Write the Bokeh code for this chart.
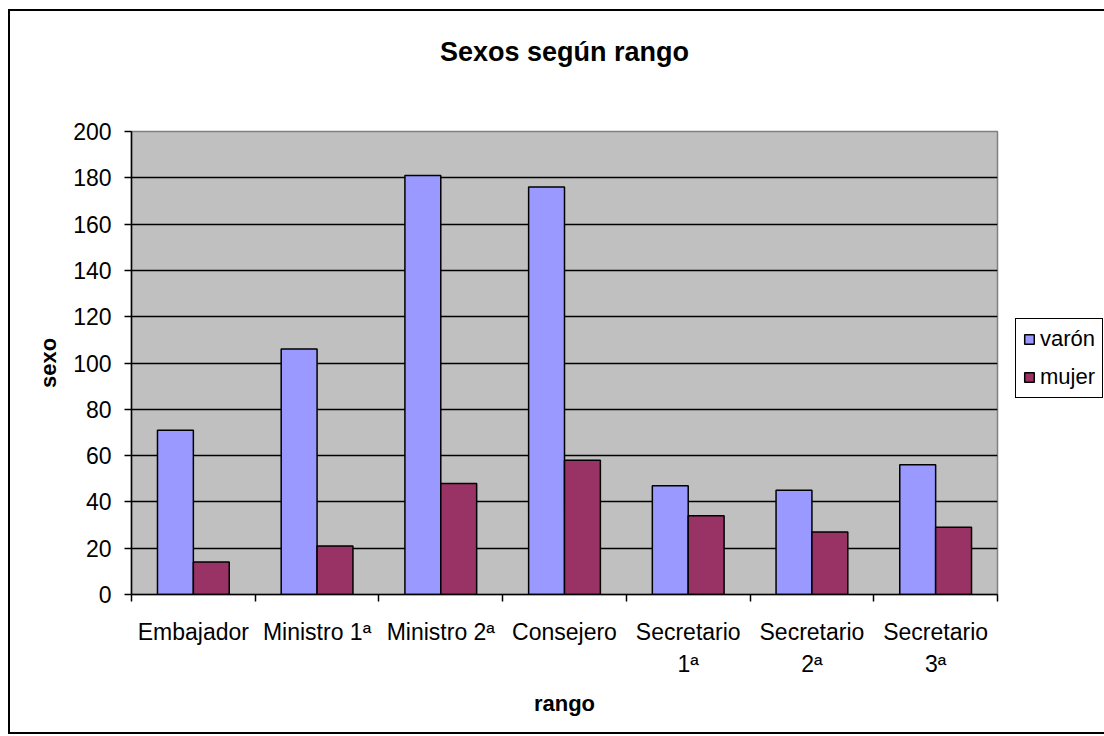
from bokeh.plotting import figure
from bokeh.models import (ColumnDataSource, FixedTicker, Legend, LegendItem, Title, Range1d)
from bokeh.transform import dodge
from bokeh.embed import file_html
from bokeh.resources import INLINE

# ---- data ----
categories = ["Embajador", "Ministro 1ª", "Ministro 2ª", "Consejero",
              "Secretario\n1ª", "Secretario\n2ª", "Secretario\n3ª"]
varon = [71, 106, 181, 176, 47, 45, 56]
mujer = [14, 21, 48, 58, 34, 27, 29]
y_ticks = [0, 20, 40, 60, 80, 100, 120, 140, 160, 180, 200]
title_text = "Sexos según rango"
x_label = "rango"
y_label = "sexo"
series_names = ["varón", "mujer"]

FONT = "Liberation Sans"

xpos = [i + 0.5 for i in range(len(categories))]
src = ColumnDataSource(dict(x=xpos, varon=varon, mujer=mujer))

p = figure(frame_width=866, frame_height=463,
           x_range=Range1d(0, len(categories)), y_range=Range1d(y_ticks[0], y_ticks[-1]),
           output_backend="svg", toolbar_location=None,
           min_border_left=121, min_border_right=103,
           min_border_top=120, min_border_bottom=138)
p.styles = {"border": "2px solid black", "margin-left": "8px", "margin-top": "9px"}
p.background_fill_color = "#C0C0C0"
p.border_fill_color = "white"
p.outline_line_color = "#808080"
p.outline_line_width = 1.5

r1 = p.vbar(x=dodge("x", -0.145, range=p.x_range), top="varon", width=0.29, source=src,
            fill_color="#9999FF", line_color="black", line_width=1.5)
r2 = p.vbar(x=dodge("x", 0.145, range=p.x_range), top="mujer", width=0.29, source=src,
            fill_color="#993366", line_color="black", line_width=1.5)

# x axis: labels at centers, ticks at category boundaries
xa = p.xaxis[0]
xa.ticker = FixedTicker(ticks=xpos, minor_ticks=list(range(len(categories) + 1)))
xa.major_label_overrides = {float(v): c for v, c in zip(xpos, categories)}
xa.major_tick_out = 0
xa.major_tick_in = 0
xa.minor_tick_out = 7
xa.minor_tick_in = 0
xa.minor_tick_line_color = "black"
xa.minor_tick_line_width = 1.5
xa.axis_line_color = "black"
xa.axis_line_width = 1.5
xa.major_label_text_font = FONT
xa.major_label_text_font_size = "23px"
xa.major_label_text_color = "black"
xa.major_label_text_line_height = 1.25
xa.major_label_standoff = 17
xa.axis_label = x_label
xa.axis_label_text_font = FONT
xa.axis_label_text_font_style = "bold"
xa.axis_label_text_font_size = "22px"
xa.axis_label_text_color = "black"
xa.axis_label_standoff = 11

ya = p.yaxis[0]
ya.ticker = FixedTicker(ticks=y_ticks)
ya.major_tick_out = 7
ya.major_tick_in = 0
ya.minor_tick_out = 0
ya.minor_tick_in = 0
ya.major_tick_line_color = "black"
ya.major_tick_line_width = 1.5
ya.axis_line_color = "black"
ya.axis_line_width = 1.5
ya.major_label_text_font = FONT
ya.major_label_text_font_size = "23px"
ya.major_label_text_color = "black"
ya.major_label_standoff = 13
ya.axis_label = y_label
ya.axis_label_text_font = FONT
ya.axis_label_text_font_style = "bold"
ya.axis_label_text_font_size = "22px"
ya.axis_label_text_color = "black"
ya.axis_label_standoff = 9

p.xgrid.visible = False
p.ygrid.ticker = FixedTicker(ticks=y_ticks)
p.ygrid.grid_line_color = "black"
p.ygrid.grid_line_width = 1.3

# title (a blank spacer title sits between the frame and the real title)
p.title = None
p.add_layout(Title(text=" ", text_font=FONT, text_font_size="10px", standoff=52), "above")
p.add_layout(Title(text=title_text, align="center",
                   text_font=FONT, text_font_style="bold", text_font_size="27px",
                   text_color="black", standoff=0), "above")

legend = Legend(items=[LegendItem(label=series_names[0], renderers=[r1]),
                       LegendItem(label=series_names[1], renderers=[r2])],
                location=(18, 196),
                border_line_color="black", border_line_width=1.5, border_line_alpha=1,
                background_fill_color="white", background_fill_alpha=1,
                label_text_font=FONT, label_text_font_size="22px", label_text_color="black",
                glyph_width=12, glyph_height=12, label_standoff=5,
                padding=7, spacing=12, margin=0)
p.add_layout(legend, "right")

open("out.html", "w").write(file_html(p, INLINE))
